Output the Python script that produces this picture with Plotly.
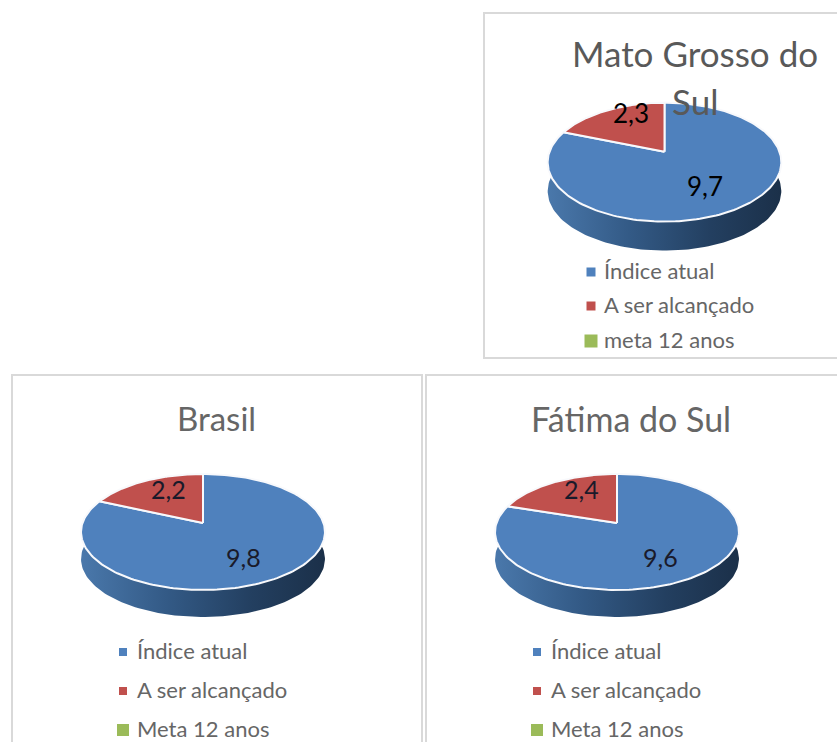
import numpy as np
import plotly.graph_objects as go

# ---- data ----
regions = ["Mato Grosso do Sul", "Brasil", "Fátima do Sul"]
indice_atual = [9.7, 9.8, 9.6]
a_ser_alcancado = [2.3, 2.2, 2.4]
legend_labels = [
    ["Índice atual", "A ser alcançado", "meta 12 anos"],
    ["Índice atual", "A ser alcançado", "Meta 12 anos"],
    ["Índice atual", "A ser alcançado", "Meta 12 anos"],
]
titles = [["Mato Grosso do", "Sul"], ["Brasil"], ["Fátima do Sul"]]
value_labels = [["9,7", "2,3"], ["9,8", "2,2"], ["9,6", "2,4"]]

# ---- styling ----
BLUE, RED, GREEN = "#4f81bd", "#c0504d", "#9bbb59"
GREY = "#666666"
FONT = "Lato"
W, H = 837, 742

panels = [
    dict(cx=664.5, cy=151.7, wd=115, h=57.6, k=0.176, depth=29, frame=(484, 13, 846, 358),
         title_y=[53, 101], title_x=695, title_size=35, tcolor="#595959",
         lab_big=(705, 186), lab_small=(631, 113), lab_size=26, lab_color="#000000",
         leg_mx=591, leg_tx=602, leg_y=[270, 304, 339], leg_size=22, leg_ms=[9, 9, 13]),
    dict(cx=203, cy=523, wd=120.5, h=56.6, k=0.155, depth=27, frame=(12, 375, 422, 760),
         title_y=[418], title_x=216, title_size=33, tcolor=GREY,
         lab_big=(243, 557), lab_small=(168, 489), lab_size=25, lab_color="#1a1a2a",
         leg_mx=123, leg_tx=135, leg_y=[650, 689, 728], leg_size=22, leg_ms=[8, 8, 12]),
    dict(cx=617, cy=523, wd=120.5, h=56.6, k=0.155, depth=27, frame=(426, 375, 846, 760),
         title_y=[418], title_x=631, title_size=34, tcolor=GREY,
         lab_big=(660, 557), lab_small=(581, 489), lab_size=25, lab_color="#1a1a2a",
         leg_mx=537, leg_tx=549, leg_y=[650, 689, 728], leg_size=22, leg_ms=[8, 8, 12]),
]


def rim(p, theta):
    """Project a unit-circle angle (clockwise from the far point) with perspective."""
    u, v = np.sin(theta), np.cos(theta)
    d = 1 + p["k"] * v
    return p["cx"] + p["wd"] * u / d, p["cy"] - p["h"] * v / d


fig = go.Figure()
annotations, shapes = [], []

for i, p in enumerate(panels):
    x0, y0, x1, y1 = p["frame"]
    shapes.append(dict(type="rect", xref="x", yref="y", x0=x0, y0=y0, x1=x1, y1=y1,
                       line=dict(color="#d9d9d9", width=2), fillcolor="white", layer="below"))

    # side wall of the disc
    th = np.linspace(np.radians(75), np.radians(285), 120)
    rx, ry = rim(p, th)
    fig.add_trace(go.Scatter(
        x=np.r_[rx, rx[::-1]], y=np.r_[ry, ry[::-1] + p["depth"]],
        mode="lines", fill="toself", line=dict(width=0, color="rgba(0,0,0,0)"),
        fillgradient=dict(type="horizontal",
                          colorscale=[[0, "#4a78ab"], [0.35, "#335a86"], [0.7, "#233f60"], [1, "#1b3049"]]),
        hoverinfo="skip", showlegend=False))

    # top face: wedges from the values, clockwise from 12 o'clock
    total = indice_atual[i] + a_ser_alcancado[i]
    split = 2 * np.pi * indice_atual[i] / total
    for start, stop, color in [(0, split, BLUE), (split, 2 * np.pi, RED)]:
        t = np.linspace(start, stop, 200)
        wx, wy = rim(p, t)
        fig.add_trace(go.Scatter(
            x=np.r_[p["cx"], wx, p["cx"]], y=np.r_[p["cy"], wy, p["cy"]],
            mode="lines", fill="toself", fillcolor=color,
            line=dict(color="#f8f9fc", width=2), hoverinfo="skip", showlegend=False))

    # legend keys
    for y, ms, col in zip([v + 2 for v in p["leg_y"]], p["leg_ms"], [BLUE, RED, GREEN]):
        fig.add_trace(go.Scatter(x=[p["leg_mx"]], y=[y], mode="markers",
                                 marker=dict(symbol="square", size=ms, color=col),
                                 hoverinfo="skip", showlegend=False))
    for y, txt in zip(p["leg_y"], legend_labels[i]):
        annotations.append(dict(x=p["leg_tx"], y=y, text=txt, showarrow=False, xanchor="left",
                                font=dict(family=FONT, size=p["leg_size"], color=GREY)))
    # titles
    for y, txt in zip(p["title_y"], titles[i]):
        annotations.append(dict(x=p["title_x"], y=y, text=txt, showarrow=False,
                                font=dict(family=FONT, size=p["title_size"], color=p["tcolor"])))
    # value labels
    for pos, txt in zip((p["lab_big"], p["lab_small"]), value_labels[i]):
        annotations.append(dict(x=pos[0], y=pos[1], text=txt, showarrow=False,
                                font=dict(family=FONT, size=p["lab_size"], color=p["lab_color"])))

fig.update_layout(
    width=W, height=H, margin=dict(l=0, r=0, t=0, b=0),
    paper_bgcolor="white", plot_bgcolor="white", showlegend=False,
    xaxis=dict(range=[0, W], visible=False, fixedrange=True),
    yaxis=dict(range=[H, 0], visible=False, fixedrange=True),
    shapes=shapes, annotations=annotations,
)
fig.write_html("out.html", config=dict(displayModeBar=False),
               post_script="document.body.style.margin='0';document.documentElement.style.overflow='hidden';")
